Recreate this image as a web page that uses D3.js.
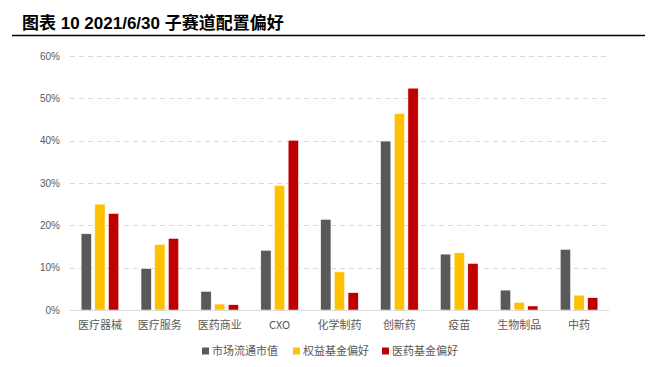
<!DOCTYPE html>
<html>
<head>
<meta charset="utf-8">
<script src="https://cdn.jsdelivr.net/npm/d3@7"></script>
<style>
html,body{margin:0;padding:0;background:#fff;}
svg{display:block;}
text{font-family:"Noto Sans CJK SC","Liberation Sans",sans-serif;}
</style>
</head>
<body>
<svg id="chart" width="660" height="367"></svg>
<script>
const titleText = "图表 10 2021/6/30 子赛道配置偏好";
const categories = ["医疗器械","医疗服务","医药商业","CXO","化学制药","创新药","疫苗","生物制品","中药"];
const seriesNames = ["市场流通市值","权益基金偏好","医药基金偏好"];
const marketCap = [18.0, 9.8, 4.4, 14.1, 21.4, 39.9, 13.2, 4.7, 14.3];
const equityFund = [25.0, 15.5, 1.4, 29.4, 9.0, 46.4, 13.5, 1.8, 3.5];
const pharmaFund = [22.8, 16.9, 1.25, 40.1, 4.1, 52.4, 11.0, 0.95, 2.9];
const yTicks = [0, 10, 20, 30, 40, 50, 60];
const colors = ["#595959", "#FFC000", "#C00000"];

(function () {
const series = [marketCap, equityFund, pharmaFund];
const svg = d3.select("#chart");

// title
svg.append("text")
  .attr("x", 22).attr("y", 29)
  .attr("font-size", 17).attr("font-weight", "bold")
  .attr("fill", "#000")
  .style("font-family", "'Liberation Sans','Noto Sans CJK SC',sans-serif")
  .text(titleText);
svg.append("line")
  .attr("x1", 12).attr("x2", 645).attr("y1", 35.5).attr("y2", 35.5)
  .attr("stroke", "#000").attr("stroke-width", 1.3);

const pLeft = 70, pRight = 609, pTop = 56, pBottom = 310;
const y = d3.scaleLinear().domain([0, 60]).range([pBottom, pTop]);
const x = d3.scaleBand().domain(categories).range([pLeft, pRight]).padding(0);
const xs = d3.scaleBand().domain(d3.range(3)).range([-18.8, 18.8]).paddingInner(0.25);

// grid
svg.append("g").selectAll("line")
  .data(yTicks.filter(d => d > 0))
  .join("line")
  .attr("x1", pLeft).attr("x2", pRight)
  .attr("y1", d => Math.round(y(d)) + 0.5).attr("y2", d => Math.round(y(d)) + 0.5)
  .attr("stroke", "#D9D9D9").attr("stroke-width", 1)
  .attr("stroke-dasharray", "5,4");

// y labels
svg.append("g").selectAll("text")
  .data(yTicks)
  .join("text")
  .attr("x", 60).attr("y", d => y(d))
  .attr("dy", "0.35em")
  .attr("text-anchor", "end")
  .attr("font-size", 10).attr("fill", "#595959")
  .style("font-family", "'Liberation Sans',sans-serif")
  .text(d => d + "%");

// bars
const groups = svg.append("g").selectAll("g")
  .data(categories)
  .join("g")
  .attr("transform", d => `translate(${x(d) + x.bandwidth() / 2},0)`);

groups.selectAll("rect")
  .data((c, i) => series.map((s, k) => ({k, v: s[i]})))
  .join("rect")
  .attr("x", d => xs(d.k))
  .attr("width", xs.bandwidth())
  .attr("y", d => y(d.v))
  .attr("height", d => y(0) - y(d.v))
  .attr("fill", d => colors[d.k])
  .attr("stroke", "#fff").attr("stroke-width", 0.5);

// x axis line
svg.append("line")
  .attr("x1", pLeft).attr("x2", pRight).attr("y1", pBottom + 0.5).attr("y2", pBottom + 0.5)
  .attr("stroke", "#D9D9D9").attr("stroke-width", 1);

// x labels
svg.append("g").selectAll("text")
  .data(categories)
  .join("text")
  .attr("x", d => x(d) + x.bandwidth() / 2)
  .attr("y", 325).attr("dy", "0.35em")
  .attr("text-anchor", "middle")
  .attr("font-size", 11).attr("fill", "#595959")
  .text(d => d);

// legend
const legendX = [202, 293, 382];
const lg = svg.append("g").selectAll("g")
  .data(seriesNames)
  .join("g")
  .attr("transform", (d, i) => `translate(${legendX[i]},351)`);
lg.append("rect")
  .attr("x", 0).attr("y", -3.5).attr("width", 7).attr("height", 7)
  .attr("fill", (d, i) => colors[i]);
lg.append("text")
  .attr("x", 10).attr("y", 0).attr("dy", "0.35em")
  .attr("font-size", 11).attr("fill", "#595959")
  .text(d => d);
})();
</script>
</body>
</html>
